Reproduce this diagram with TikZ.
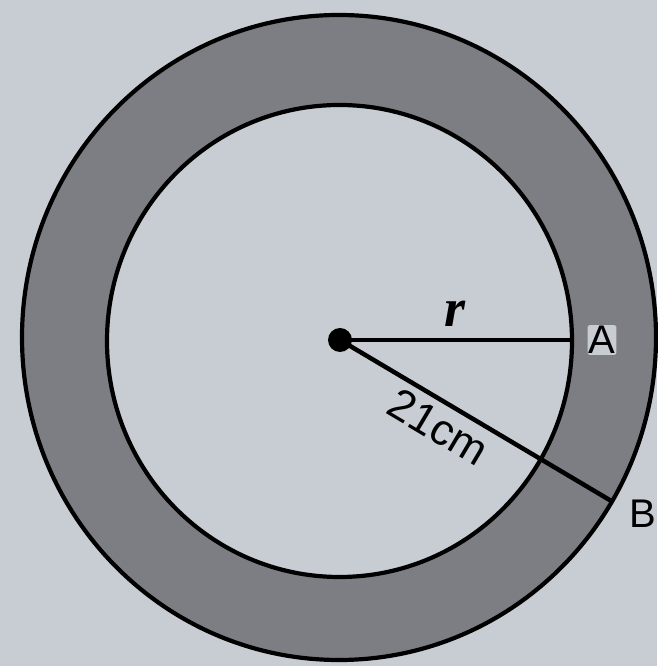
\documentclass[tikz,border=0pt]{standalone}
\usepackage{fontspec}
\setmainfont{Liberation Sans}
\newfontfamily\serifit{Liberation Serif}
\definecolor{bg}{RGB}{200,205,212}
\definecolor{ring}{RGB}{125,126,131}
\tikzset{
  outline/.style={draw=black, line width=4.2pt},
  radius line/.style={draw=black, line width=4.5pt},
  ptlabel/.style={font=\fontsize{40}{40}\selectfont, inner sep=1pt},
}
\begin{document}
\begin{tikzpicture}[x=1pt,y=1pt]
\useasboundingbox (0,0) rectangle (657,666);
\fill[bg] (0,0) rectangle (657,666);
\fill[ring, even odd rule] (339,328.5) ellipse [x radius=317, y radius=322.5]
  (339.5,325) ellipse [x radius=232.5, y radius=236];
\draw[outline] (339,328.5) ellipse [x radius=317, y radius=322.5];
\draw[outline] (339.5,325) ellipse [x radius=232.5, y radius=236];
\coordinate (O) at (340,326);
\coordinate (pA) at (572,326);
\coordinate (pB) at (613,164);
\draw[radius line] (O) -- (pA);
\draw[radius line] (O) -- (pB);
\fill (O) circle (12);
\node[ptlabel, fill=bg, rounded corners=2pt] (A) at (602,326) {A};
\node[ptlabel] (B) at (643,152) {B};
\node[font=\serifit\bfseries\itshape\fontsize{54}{54}\selectfont, inner sep=0pt] (r) at (455,352) {r};
\node[font=\fontsize{44}{44}\selectfont, rotate=-30.7, inner sep=0pt] (len) at (438,239) {21cm};
\end{tikzpicture}
\end{document}
